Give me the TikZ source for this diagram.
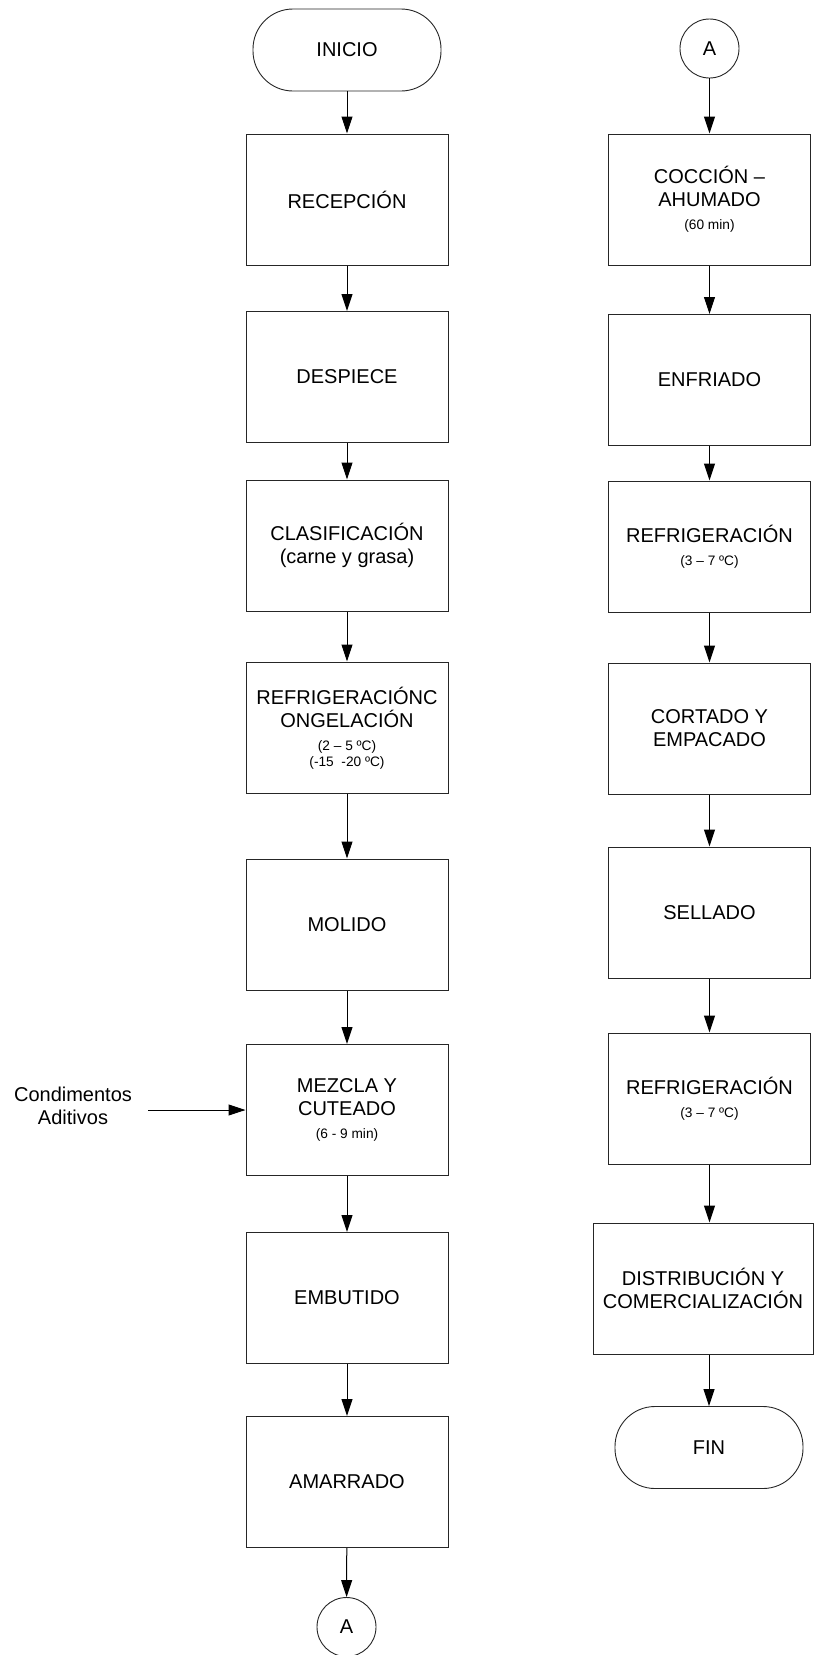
\documentclass[tikz,border=0pt]{standalone}
\usepackage{fontspec}
\setmainfont{Liberation Sans}
\usetikzlibrary{arrows.meta}
\newcommand\fA{\fontsize{20}{23}\selectfont}
\newcommand\fB{\fontsize{13.7}{16}\selectfont}
\tikzset{
  procbox/.style={draw=black!85, line width=1pt, rectangle, minimum width=202pt, minimum height=131pt, align=center, font=\fA, inner sep=2pt},
  termbox/.style={draw=black!85, line width=0.9pt, rectangle, rounded corners=40pt, minimum width=188pt, minimum height=82pt, align=center, font=\fA},
  connbox/.style={draw=black!85, line width=0.9pt, circle, minimum size=59pt, inner sep=0pt, font=\fA},
  flow/.style={draw=black, line width=1pt, -{Triangle[length=17pt,width=11pt]}},
  plain/.style={align=center, font=\fA}
}
\begin{document}
\begin{tikzpicture}[x=1pt,y=-1pt]
\useasboundingbox (0,0) rectangle (814,1655);
% left column
\node[termbox] (ini) at (347,50) {INICIO};
\node[procbox] (rec) at (347,199.5) {RECEPCIÓN};
\node[procbox] (desp) at (347,377) {DESPIECE};
\node[procbox] (clas) at (347,545.5) {CLASIFICACIÓN\\(carne y grasa)};
\node[procbox] (refc) at (347,727.5) {\rule{0pt}{19pt}REFRIGERACIÓNC\\ONGELACIÓN\\{\fB (2 – 5 ºC)}\\[-6.5pt]{\fB (-15\ \ -20 ºC)}};
\node[procbox] (mol) at (347,924.5) {MOLIDO};
\node[procbox] (mez) at (347,1110) {MEZCLA Y\\CUTEADO\\{\fB (6 - 9 min)}};
\node[procbox] (emb) at (347,1298) {EMBUTIDO};
\node[procbox] (ama) at (347,1482) {AMARRADO};
\node[connbox] (ca) at (346.5,1627) {A};
\node[plain] (cond) at (73,1106) {Condimentos\\Aditivos};
\coordinate (cin) at (148,1110);
% right column
\node[connbox] (cb) at (709.5,48.5) {A};
\node[procbox] (coc) at (709.5,199.5) {COCCIÓN –\\AHUMADO\\{\fB (60 min)}};
\node[procbox] (enf) at (709.5,380) {ENFRIADO};
\node[procbox] (ref1) at (709.5,546.5) {REFRIGERACIÓN\\{\fB (3 – 7 ºC)}};
\node[procbox] (cor) at (709.5,728.5) {CORTADO Y\\EMPACADO};
\node[procbox] (sel) at (709.5,912.5) {SELLADO};
\node[procbox] (ref2) at (709.5,1098.5) {REFRIGERACIÓN\\{\fB (3 – 7 ºC)}};
\node[procbox, minimum width=220pt] (dis) at (703,1288.5) {DISTRIBUCIÓN Y\\COMERCIALIZACIÓN};
\node[termbox] (fin) at (709,1447.5) {FIN};
% connectors left
\draw[flow] (ini) -- (rec);
\draw[flow] (rec) -- (desp);
\draw[flow] (desp) -- (clas);
\draw[flow] (clas) -- (refc);
\draw[flow] (refc) -- (mol);
\draw[flow] (mol) -- (mez);
\draw[flow] (mez) -- (emb);
\draw[flow] (emb) -- (ama);
\draw[flow] (ama) -- (ca);
\draw[flow] (cin) -- (mez.west);
% connectors right
\draw[flow] (cb) -- (coc);
\draw[flow] (coc) -- (enf);
\draw[flow] (enf) -- (ref1);
\draw[flow] (ref1) -- (cor);
\draw[flow] (cor) -- (sel);
\draw[flow] (sel) -- (ref2);
\draw[flow] (ref2.south) -- (ref2.south |- dis.north);
\draw[flow] (dis.south -| fin.north) -- (fin.north);
\end{tikzpicture}
\end{document}
